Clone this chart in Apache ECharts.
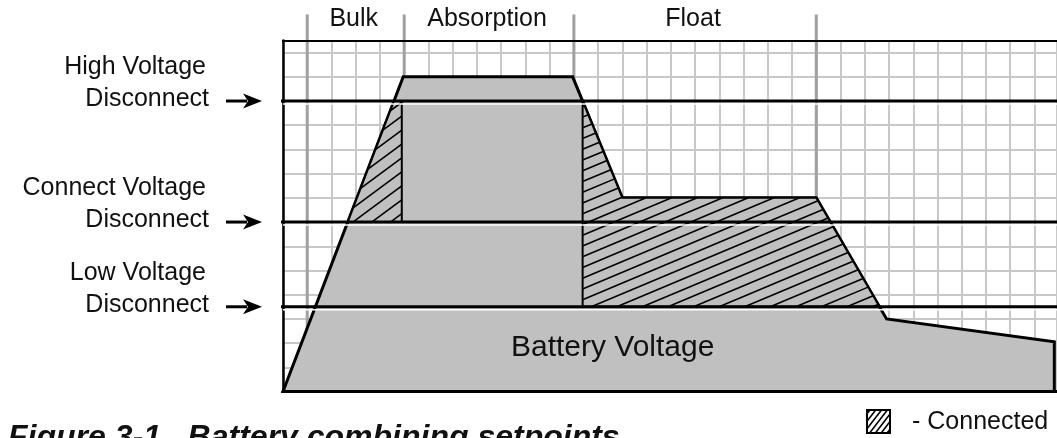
<!DOCTYPE html>
<html>
<head>
<meta charset="utf-8">
<script src="https://cdn.jsdelivr.net/npm/echarts@6/dist/echarts.min.js"></script>
<style>
  html, body { margin: 0; padding: 0; background: #fff; }
  #chart { width: 1057px; height: 438px; }
</style>
</head>
<body>
<div id="chart"></div>
<script>
// everything is in squares of the chart paper (x: time, y: voltage)
const phaseBounds = [1, 5, 12, 22];
const phaseNames = ['Bulk', 'Absorption', 'Float'];

const batteryX = [0, 4.96, 11.95, 14, 22, 24.9, 31.82, 31.82];
const batteryY = [0, 13, 13, 8, 8, 3, 2.05, 0];
const batteryLabel = 'Battery Voltage';
const batteryLabelAt = [13.6, 1.8];

const setpointLevels = [12, 7, 3.5];
const setpointNames = ['High Voltage', 'Connect Voltage', 'Low Voltage'];

const bulkHatchX = [4.58, 4.9, 4.9, 2.67];
const bulkHatchY = [12, 12, 7, 7];
const floatHatchX = [12.36, 14, 22, 24.61, 12.36];
const floatHatchY = [12, 8, 8, 3.5, 3.5];

const xMax = 31.93;
const yMax = 14.5;

const FONT = '"Liberation Sans", Arial, sans-serif';
const INK = '#111';

// clip parallel lines (rising to the right) to a polygon given in pixels
function hatchLines(pts, slope, gap, style) {
  const len = Math.hypot(1, slope);
  const dx = 1 / len, dy = -slope / len;
  const nx = slope / len, ny = 1 / len;
  const proj = pts.map(p => p[0] * nx + p[1] * ny);
  const lo = Math.min(...proj), hi = Math.max(...proj);
  const out = [];
  for (let c = lo + gap / 2; c < hi; c += gap) {
    const hits = [];
    for (let i = 0; i < pts.length; i++) {
      const j = (i + 1) % pts.length;
      const fa = proj[i] - c, fb = proj[j] - c;
      if ((fa < 0) !== (fb < 0)) {
        const t = fa / (fa - fb);
        hits.push([pts[i][0] + t * (pts[j][0] - pts[i][0]), pts[i][1] + t * (pts[j][1] - pts[i][1])]);
      }
    }
    hits.sort((p, q) => (p[0] * dx + p[1] * dy) - (q[0] * dx + q[1] * dy));
    for (let k = 0; k + 1 < hits.length; k += 2) {
      out.push({
        type: 'line',
        shape: { x1: hits[k][0], y1: hits[k][1], x2: hits[k + 1][0], y2: hits[k + 1][1] },
        style: style
      });
    }
  }
  return out;
}

const hatchRegions = [
  { xs: bulkHatchX, ys: bulkHatchY, slope: 0.74, gap: 11.2 },
  { xs: floatHatchX, ys: floatHatchY, slope: 0.42, gap: 9.9 }
];

const chart = echarts.init(document.getElementById('chart'));

const axisOff = { axisTick: { show: false }, axisLabel: { show: false } };
const gridLine = { show: true, lineStyle: { color: '#c8c8c8', width: 2 } };

// legend swatch
const sw = { x: 867, y: 410, w: 23, h: 23 };
const swatchPts = [[sw.x, sw.y], [sw.x + sw.w, sw.y], [sw.x + sw.w, sw.y + sw.h], [sw.x, sw.y + sw.h]];

chart.setOption({
  animation: false,
  backgroundColor: '#fff',
  grid: { left: 283, top: 40.5, right: 0, bottom: 46.5, outerBoundsMode: 'none', containLabel: false },
  xAxis: [
    {
      type: 'value', min: 0, max: xMax, interval: 1, ...axisOff,
      axisLine: { show: true, onZero: false, lineStyle: { color: '#000', width: 3 } },
      splitLine: gridLine
    },
    {
      type: 'value', position: 'top', min: 0, max: xMax, z: 10, ...axisOff,
      axisLine: { show: true, onZero: false, lineStyle: { color: '#000', width: 2 } },
      splitLine: { show: false }
    }
  ],
  yAxis: {
    type: 'value', min: 0, max: yMax, interval: 1, ...axisOff,
    axisLine: { show: true, onZero: false, lineStyle: { color: '#000', width: 2.5 } },
    splitLine: gridLine
  },
  series: [
    {
      name: 'phases',
      type: 'custom',
      silent: true,
      z: 1,
      data: phaseBounds.map((x, i) => [x, i]),
      renderItem(params, api) {
        const i = params.dataIndex;
        const x = api.value(0);
        const base = api.coord([x, 0]);
        const top = params.coordSys.y - 26;
        const children = [{
          type: 'line',
          shape: { x1: base[0], y1: top, x2: base[0], y2: base[1] },
          style: { stroke: '#a0a0a0', lineWidth: 3 }
        }];
        if (i < phaseNames.length) {
          const mid = api.coord([(x + phaseBounds[i + 1]) / 2, 0])[0];
          children.push({
            type: 'text', x: mid - 2, y: params.coordSys.y - 21,
            style: { text: phaseNames[i], font: '25px ' + FONT, fill: INK, align: 'center', verticalAlign: 'middle' }
          });
        }
        return { type: 'group', children };
      }
    },
    {
      name: 'battery',
      type: 'custom',
      silent: true,
      z: 2,
      data: [[0, 0]],
      renderItem(params, api) {
        const pts = batteryX.map((x, i) => api.coord([x, batteryY[i]]));
        const c = api.coord(batteryLabelAt);
        return {
          type: 'group',
          children: [
            { type: 'polygon', shape: { points: pts }, style: { fill: '#c0c0c0', stroke: '#000', lineWidth: 3, lineJoin: 'miter' } },
            { type: 'text', x: c[0], y: c[1], style: { text: batteryLabel, font: '30px ' + FONT, fill: INK, align: 'center', verticalAlign: 'middle' } }
          ]
        };
      }
    },
    {
      name: 'connected',
      type: 'custom',
      silent: true,
      z: 3,
      data: hatchRegions.map((r, i) => [r.xs[0], r.ys[0]]),
      renderItem(params, api) {
        const r = hatchRegions[params.dataIndex];
        const pts = r.xs.map((x, i) => api.coord([x, r.ys[i]]));
        return {
          type: 'group',
          children: [
            { type: 'polygon', shape: { points: pts }, style: { fill: '#c0c0c0', stroke: '#000', lineWidth: 2 } },
            ...hatchLines(pts, r.slope, r.gap, { stroke: '#000', lineWidth: 1.6 })
          ]
        };
      }
    },
    {
      name: 'setpoints',
      type: 'custom',
      silent: true,
      z: 4,
      data: setpointLevels.map(v => [0, v]),
      renderItem(params, api) {
        const i = params.dataIndex;
        const v = api.value(1);
        const a = api.coord([0, v]);
        const b = api.coord([xMax, v]);
        const y = a[1], gx = a[0];
        return {
          type: 'group',
          children: [
            { type: 'line', shape: { x1: gx, y1: y + 3, x2: b[0], y2: y + 3 }, style: { stroke: '#fff', lineWidth: 1.5 } },
            { type: 'line', shape: { x1: gx - 2, y1: y, x2: b[0], y2: y }, style: { stroke: '#000', lineWidth: 3 } },
            { type: 'line', shape: { x1: gx - 57, y1: y, x2: gx - 36, y2: y }, style: { stroke: '#000', lineWidth: 3 } },
            { type: 'polygon', shape: { points: [[gx - 21, y], [gx - 40, y - 7.5], [gx - 35, y], [gx - 40, y + 7.5]] }, style: { fill: '#000' } },
            { type: 'text', x: gx - 74, y: y - 1.5, style: { text: 'Disconnect', font: '25px ' + FONT, fill: INK, align: 'right', verticalAlign: 'middle' } },
            { type: 'text', x: gx - 77, y: y - 34, style: { text: setpointNames[i], font: '25px ' + FONT, fill: INK, align: 'right', verticalAlign: 'middle' } }
          ]
        };
      }
    }
  ],
  graphic: [
    {
      type: 'text', x: 8, y: 438.5, silent: true,
      style: { text: 'Figure 3-1.  Battery combining setpoints', font: 'italic bold 32px ' + FONT, fill: INK, verticalAlign: 'middle' }
    },
    {
      type: 'group', silent: true,
      children: [
        { type: 'rect', shape: { x: sw.x, y: sw.y, width: sw.w, height: sw.h }, style: { fill: '#fff', stroke: '#000', lineWidth: 2 } },
        ...hatchLines(swatchPts, 1.3, 4.6, { stroke: '#000', lineWidth: 1.6 })
      ]
    },
    {
      type: 'text', x: 912, y: 422, silent: true,
      style: { text: '- Connected', font: '25px ' + FONT, fill: INK, verticalAlign: 'middle' }
    }
  ]
});
</script>
</body>
</html>
